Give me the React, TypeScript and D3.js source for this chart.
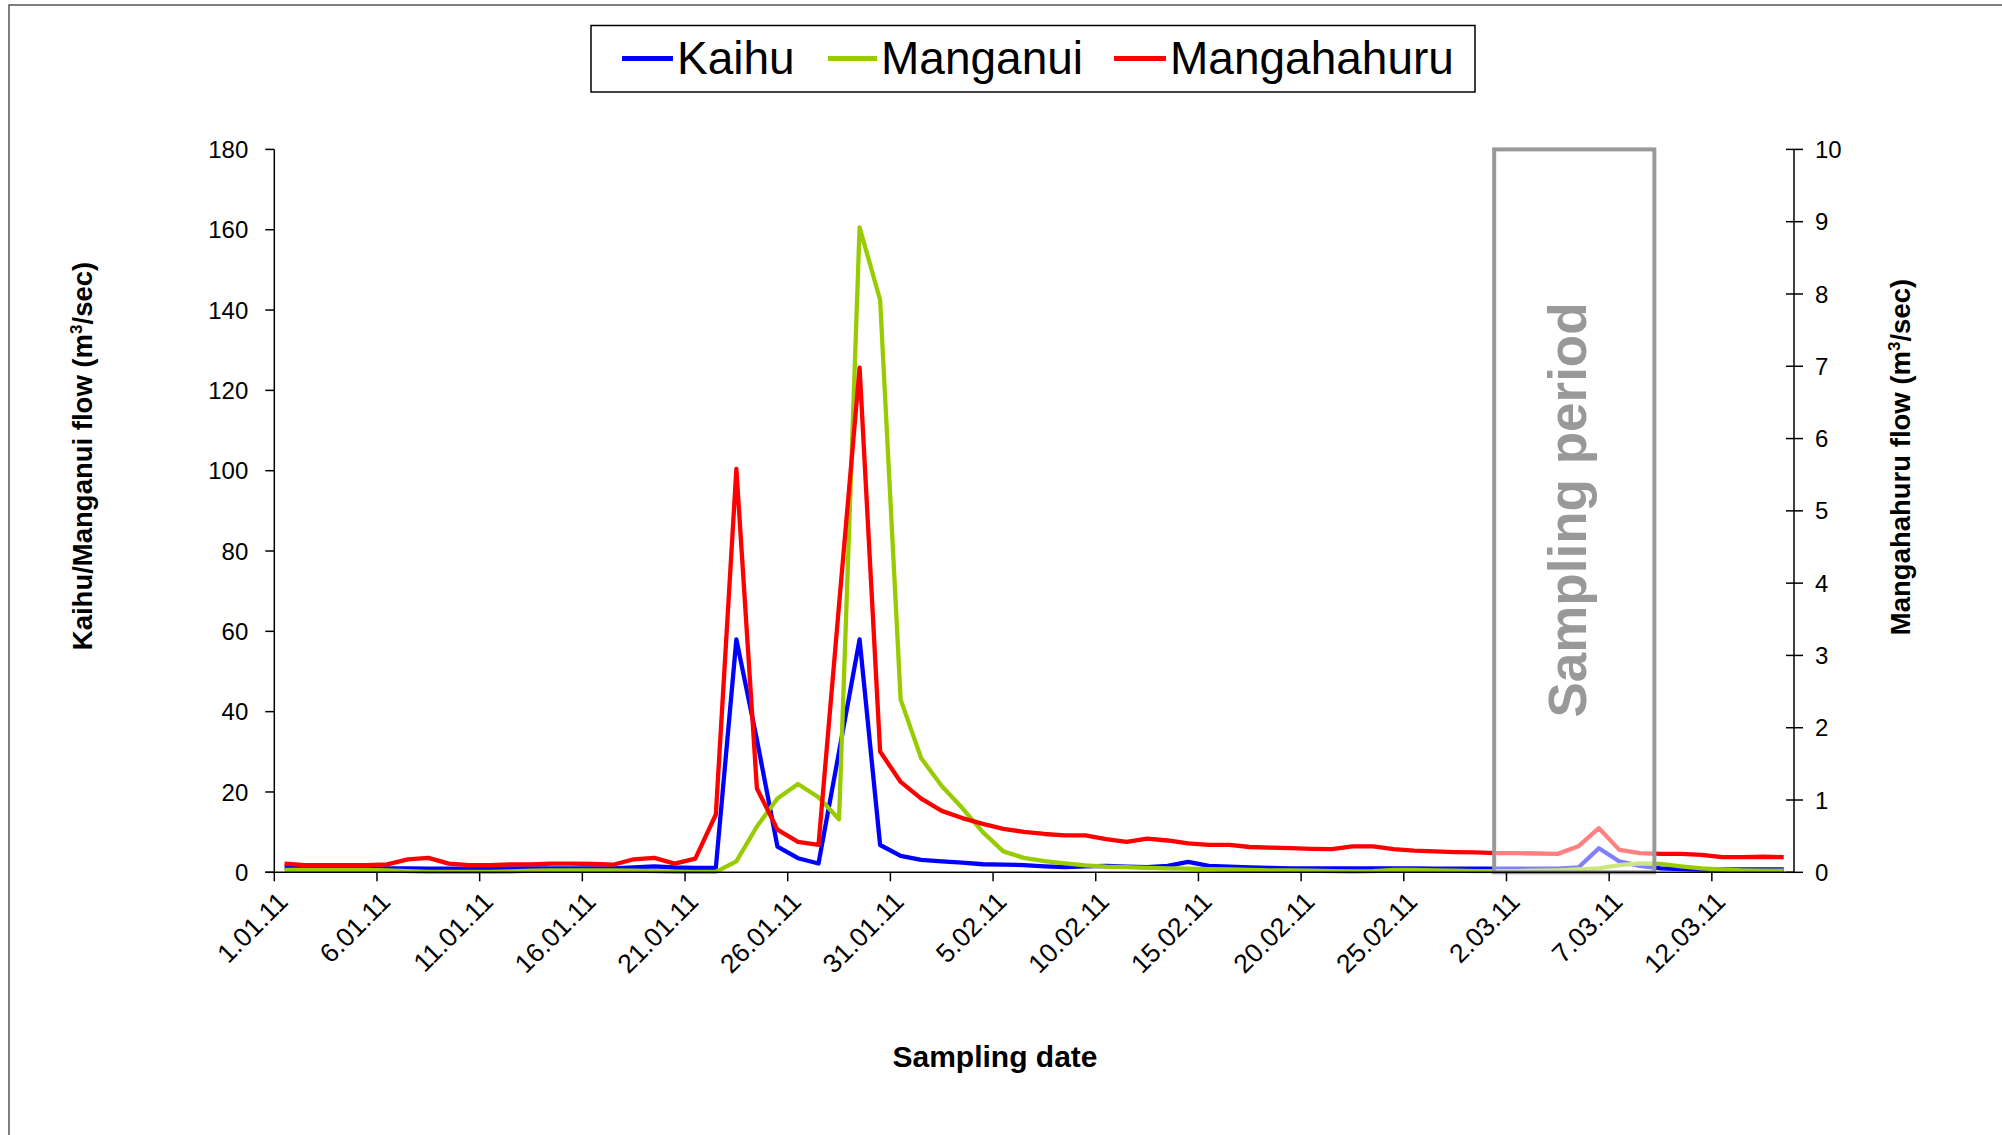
import React from "react";
import * as d3 from "d3";

// ---- data (daily flows, 1.01.11 .. 15.03.11) ----
const kaihu: number[] = [
  1.2, 1.1, 1.0, 1.0, 1.0, 1.0, 1.0, 0.9, 0.9, 0.9,
  0.9, 1.0, 1.0, 1.0, 1.0, 1.0, 1.0, 1.2, 1.5, 1.2,
  1.1, 1.1, 58.0, 33.0, 6.4, 3.5, 2.2, 30.0, 58.0, 6.8,
  4.1, 3.1, 2.7, 2.4, 2.0, 1.9, 1.8, 1.5, 1.3, 1.5,
  1.6, 1.4, 1.3, 1.6, 2.6, 1.6, 1.4, 1.2, 1.1, 1.0,
  1.0, 1.0, 1.0, 1.0, 1.0, 1.0, 0.9, 0.9, 0.9, 0.9,
  0.9, 0.9, 0.9, 1.2, 6.0, 2.7, 1.6, 1.0, 0.8, 0.7,
  0.7, 0.7, 0.7, 0.7,
];
const manganui: number[] = [
  0.6, 0.6, 0.6, 0.6, 0.6, 0.5, 0.3, 0.1, 0.1, 0.1,
  0.1, 0.2, 0.4, 0.5, 0.5, 0.5, 0.5, 0.4, 0.3, 0.1,
  0.1, 0.1, 2.7, 11.4, 18.4, 22.0, 18.7, 13.2, 160.6, 142.5,
  43.0, 28.4, 21.5, 16.0, 10.0, 5.2, 3.6, 2.8, 2.2, 1.7,
  1.4, 1.3, 1.1, 1.0, 0.9, 0.8, 0.7, 0.6, 0.5, 0.5,
  0.4, 0.3, 0.2, 0.3, 0.6, 0.6, 0.5, 0.4, 0.3, 0.3,
  0.3, 0.4, 0.5, 0.7, 1.0, 1.8, 2.2, 2.1, 1.5, 1.0,
  0.7, 0.5, 0.4, 0.4,
];
const mangahahuru: number[] = [
  0.12, 0.10, 0.10, 0.10, 0.10, 0.11, 0.18, 0.20, 0.12, 0.10,
  0.10, 0.11, 0.11, 0.12, 0.12, 0.115, 0.105, 0.18, 0.20, 0.12,
  0.19, 0.80, 5.58, 1.16, 0.59, 0.42, 0.38, 3.70, 6.98, 1.67,
  1.25, 1.02, 0.85, 0.75, 0.67, 0.60, 0.56, 0.53, 0.51, 0.51,
  0.46, 0.42, 0.465, 0.44, 0.40, 0.38, 0.38, 0.35, 0.34, 0.335,
  0.325, 0.32, 0.36, 0.36, 0.32, 0.30, 0.29, 0.28, 0.275, 0.265,
  0.265, 0.26, 0.255, 0.36, 0.61, 0.31, 0.265, 0.255, 0.255, 0.24,
  0.21, 0.21, 0.215, 0.21,
];
const tickLabels: string[] = [
  "1.01.11", "6.01.11", "11.01.11", "16.01.11", "21.01.11", "26.01.11",
  "31.01.11", "5.02.11", "10.02.11", "15.02.11", "20.02.11", "25.02.11",
  "2.03.11", "7.03.11", "12.03.11",
];
const tickEvery = 5;
const samplingPeriod: [number, number] = [59.4, 67.2]; // in days from 1.01.11

const series = [
  { name: "Kaihu", values: kaihu, color: "#0000ff", axis: "left" },
  { name: "Manganui", values: manganui, color: "#99cc00", axis: "left" },
  { name: "Mangahahuru", values: mangahahuru, color: "#ff0000", axis: "right" },
];

const W = 2002;
const H = 1135;
const FONT = "'Liberation Sans', Arial, Helvetica, sans-serif";

export default function App() {
  const L = 274.3, R = 1794, T = 149.4, B = 872.3;
  const n = kaihu.length;
  const x = d3.scaleLinear().domain([0, n]).range([L, R]);
  const yL = d3.scaleLinear().domain([0, 180]).range([B, T]);
  const yR = d3.scaleLinear().domain([0, 10]).range([B, T]);

  const mkLine = (scale: d3.ScaleLinear<number, number>) =>
    d3.line<number>().x((_, i) => x(i + 0.5)).y((d) => scale(d));

  const legendItems = [
    { name: "Kaihu", color: "#0000ff", x0: 622, x1: 673, tx: 677 },
    { name: "Manganui", color: "#99cc00", x0: 828, x1: 877, tx: 881 },
    { name: "Mangahahuru", color: "#ff0000", x0: 1114, x1: 1166, tx: 1170 },
  ];

  const sx0 = x(samplingPeriod[0]);
  const sx1 = x(samplingPeriod[1]);

  return (
    <svg
      width={W}
      height={H}
      style={{ position: "absolute", left: 0, top: 0, background: "#fff" }}
      fontFamily={FONT}
    >
      <rect x={0} y={0} width={W} height={H} fill="#fff" />
      {/* outer frame */}
      <rect x={9} y={5} width={W + 50} height={H + 50} fill="none" stroke="#555" strokeWidth={1.5} />

      {/* legend */}
      <rect x={591} y={25.5} width={884} height={66.5} fill="#fff" stroke="#000" strokeWidth={1.5} />
      {legendItems.map((it) => (
        <g key={it.name}>
          <line x1={it.x0} x2={it.x1} y1={58.5} y2={58.5} stroke={it.color} strokeWidth={5} />
          <text x={it.tx} y={74} fontSize={46} fill="#000">{it.name}</text>
        </g>
      ))}

      {/* series */}
      {series.map((s) => (
        <path
          key={s.name}
          d={mkLine(s.axis === "left" ? yL : yR)(s.values) || ""}
          fill="none"
          stroke={s.color}
          strokeWidth={4.3}
          strokeLinejoin="round"
        />
      ))}

      {/* sampling period box */}
      <rect x={sx0} y={T} width={sx1 - sx0} height={B - T} fill="#fff" fillOpacity={0.5} stroke="#999" strokeWidth={4} />
      <text
        transform={`translate(${(sx0 + sx1) / 2 + 12},${510}) rotate(-90)`}
        textAnchor="middle"
        fontSize={53}
        fontWeight="bold"
        fill="#999"
      >
        Sampling period
      </text>

      {/* left axis */}
      <line x1={L} x2={L} y1={T} y2={B} stroke="#000" strokeWidth={1.5} />
      {yL.ticks(9).map((t) => (
        <g key={"l" + t}>
          <line x1={L - 9} x2={L} y1={yL(t)} y2={yL(t)} stroke="#000" strokeWidth={1.5} />
          <text x={L - 26} y={yL(t)} dy="0.36em" textAnchor="end" fontSize={24} fill="#000">{t}</text>
        </g>
      ))}
      {/* right axis */}
      <line x1={R} x2={R} y1={T} y2={B} stroke="#000" strokeWidth={1.5} />
      {yR.ticks(10).map((t) => (
        <g key={"r" + t}>
          <line x1={R - 8} x2={R + 9} y1={yR(t)} y2={yR(t)} stroke="#000" strokeWidth={1.5} />
          <text x={R + 21} y={yR(t)} dy="0.36em" textAnchor="start" fontSize={24} fill="#000">{t}</text>
        </g>
      ))}
      {/* x axis */}
      <line x1={L - 9} x2={R} y1={B} y2={B} stroke="#000" strokeWidth={1.5} />
      {tickLabels.map((lab, k) => {
        const tx = x(k * tickEvery);
        return (
          <g key={lab}>
            <line x1={tx} x2={tx} y1={B} y2={B + 9} stroke="#000" strokeWidth={1.5} />
            <text
              transform={`translate(${tx + 15},${B + 31}) rotate(-45)`}
              textAnchor="end"
              fontSize={26.5}
              fill="#000"
            >
              {lab}
            </text>
          </g>
        );
      })}

      {/* axis titles */}
      <text transform={`translate(92,456) rotate(-90)`} textAnchor="middle" fontSize={27.5} fontWeight="bold" fill="#000">
        Kaihu/Manganui flow (m
        <tspan fontSize={17} dy={-10}>3</tspan>
        <tspan dy={10}>/sec)</tspan>
      </text>
      <text transform={`translate(1910,457) rotate(-90)`} textAnchor="middle" fontSize={27.5} fontWeight="bold" fill="#000">
        Mangahahuru flow (m
        <tspan fontSize={17} dy={-10}>3</tspan>
        <tspan dy={10}>/sec)</tspan>
      </text>
      <text x={995} y={1067} textAnchor="middle" fontSize={30} fontWeight="bold" fill="#000">
        Sampling date
      </text>
    </svg>
  );
}
